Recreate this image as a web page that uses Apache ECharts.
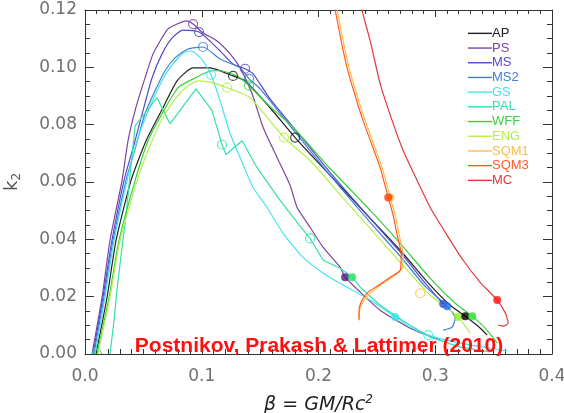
<!DOCTYPE html>
<html><head><meta charset="utf-8">
<script src="https://cdn.jsdelivr.net/npm/echarts@6/dist/echarts.min.js"></script>
<style>html,body{margin:0;padding:0;background:#fff}#c{width:564px;height:413px}</style>
</head><body><div id="c"></div>
<script>
const names = ['AP','PS','MS','MS2','GS','PAL','WFF','ENG','SQM1','SQM3','MC'];
const colors = ['#202020','#7a45a0','#5548cc','#3f7fd6','#45e3f2','#34e0a8','#36d23c','#b4f04a','#ffbd45','#ff5a28','#e23a3a'];
const xTickLabels = ['0.0','0.1','0.2','0.3','0.4'];
const yTickLabels = ['0.00','0.02','0.04','0.06','0.08','0.10','0.12'];

const AP = [[0.0094,0],[0.0189,0.0198],[0.0266,0.0396],[0.0394,0.0605],[0.0523,0.0744],[0.0668,0.0859],[0.0789,0.0953],[0.0926,0.0998],[0.1071,0.0998],[0.1268,0.0970],[0.1371,0.0953],[0.1585,0.0859],[0.1800,0.0755],[0.2100,0.0623],[0.2443,0.0473],[0.2700,0.0362],[0.2957,0.0240],[0.3128,0.0170],[0.3257,0.0132],[0.3368,0.0097],[0.3445,0.0066]];
const PS = [[0.0060,0],[0.0146,0.0198],[0.0214,0.0396],[0.0317,0.0605],[0.0369,0.0744],[0.0429,0.0849],[0.0514,0.0963],[0.0583,0.1047],[0.0660,0.1103],[0.0711,0.1134],[0.0789,0.1151],[0.0866,0.1162],[0.0926,0.1151],[0.1011,0.1120],[0.1131,0.1092],[0.1243,0.1047],[0.1329,0.0998],[0.1431,0.0908],[0.1526,0.0790],[0.1646,0.0685],[0.1757,0.0588],[0.1817,0.0511],[0.1928,0.0442],[0.2040,0.0372],[0.2185,0.0303],[0.2228,0.0268],[0.2357,0.0216],[0.2528,0.0153],[0.2785,0.0090],[0.3042,0.0049]];
const MS = [[0.0069,0],[0.0154,0.0198],[0.0231,0.0396],[0.0334,0.0605],[0.0429,0.0744],[0.0497,0.0849],[0.0574,0.0963],[0.0660,0.1047],[0.0746,0.1103],[0.0840,0.1130],[0.0977,0.1123],[0.1131,0.1068],[0.1268,0.1012],[0.1371,0.0995],[0.1440,0.0977],[0.1585,0.0890],[0.1843,0.0762],[0.2100,0.0633],[0.2443,0.0473],[0.2700,0.0355],[0.2914,0.0247],[0.3068,0.0174]];
const MS2 = [[0.0077,0],[0.0163,0.0198],[0.0240,0.0396],[0.0351,0.0605],[0.0437,0.0727],[0.0514,0.0838],[0.0600,0.0918],[0.0686,0.0988],[0.0771,0.1033],[0.0883,0.1064],[0.1011,0.1071],[0.1157,0.1029],[0.1329,0.0998],[0.1405,0.0960],[0.1500,0.0925],[0.1757,0.0796],[0.2100,0.0623],[0.2443,0.0459],[0.2700,0.0341],[0.2914,0.0236],[0.3102,0.0167],[0.3171,0.0125],[0.3145,0.0094],[0.3068,0.0083]];
const GS = [[0.0086,0],[0.0171,0.0198],[0.0249,0.0396],[0.0360,0.0605],[0.0446,0.0744],[0.0531,0.0838],[0.0617,0.0918],[0.0703,0.0984],[0.0789,0.1029],[0.0857,0.1054],[0.0900,0.1057],[0.0943,0.1050],[0.1011,0.1023],[0.1080,0.0974],[0.1157,0.0883],[0.1243,0.0769],[0.1329,0.0685],[0.1440,0.0581],[0.1560,0.0511],[0.1697,0.0421],[0.1868,0.0337],[0.2040,0.0282],[0.2185,0.0247],[0.2443,0.0188],[0.2657,0.0129],[0.2785,0.0094],[0.2940,0.0066],[0.3214,0.0038],[0.3471,0.0021],[0.3617,0.0010]];
const PAL_start = [[0.0060,0],[0.0086,0.0014],[0.0120,0.0014],[0.0146,0]];
const PAL = [[0.0214,0],[0.0249,0.0118],[0.0274,0.0223],[0.0309,0.0344],[0.0351,0.0483],[0.0386,0.0623],[0.0429,0.0796],[0.0617,0.0894],[0.0728,0.0803],[0.0951,0.0925],[0.1088,0.0849],[0.1174,0.0730],[0.1208,0.0696],[0.1346,0.0744],[0.1474,0.0650],[0.1671,0.0536],[0.1843,0.0445],[0.1928,0.0403],[0.2040,0.0327],[0.2185,0.0299],[0.2288,0.0268],[0.2357,0.0233],[0.2528,0.0170],[0.2742,0.0111],[0.2957,0.0059],[0.3214,0.0024],[0.3471,0.0007]];
const WFF = [[0.0103,0],[0.0206,0.0198],[0.0291,0.0396],[0.0429,0.0605],[0.0540,0.0744],[0.0660,0.0838],[0.0797,0.0929],[0.0943,0.0963],[0.1088,0.0988],[0.1157,0.0988],[0.1303,0.0970],[0.1405,0.0936],[0.1560,0.0873],[0.1783,0.0790],[0.2100,0.0647],[0.2443,0.0501],[0.2700,0.0386],[0.2957,0.0264],[0.3171,0.0177],[0.3317,0.0132],[0.3428,0.0090],[0.3531,0.0038]];
const ENG = [[0.0111,0],[0.0214,0.0198],[0.0300,0.0396],[0.0446,0.0605],[0.0574,0.0744],[0.0686,0.0838],[0.0831,0.0918],[0.0969,0.0953],[0.1097,0.0946],[0.1217,0.0929],[0.1414,0.0894],[0.1705,0.0755],[0.1928,0.0675],[0.2185,0.0556],[0.2443,0.0438],[0.2700,0.0320],[0.2957,0.0205],[0.3128,0.0153],[0.3197,0.0129],[0.3257,0.0097],[0.3299,0.0073]];
const SQM1 = [[0.2140,0.1240],[0.2160,0.1200],[0.2211,0.1092],[0.2262,0.0998],[0.2331,0.0901],[0.2400,0.0814],[0.2477,0.0727],[0.2545,0.0650],[0.2614,0.0546],[0.2657,0.0483],[0.2691,0.0414],[0.2725,0.0351],[0.2717,0.0299],[0.2631,0.0268],[0.2528,0.0240],[0.2425,0.0205],[0.2365,0.0170],[0.2340,0.0125]];
const SQM3 = [[0.2124,0.1240],[0.2143,0.1200],[0.2194,0.1092],[0.2245,0.0998],[0.2314,0.0901],[0.2382,0.0814],[0.2460,0.0727],[0.2528,0.0650],[0.2597,0.0546],[0.2640,0.0483],[0.2674,0.0414],[0.2708,0.0351],[0.2700,0.0292],[0.2614,0.0268],[0.2528,0.0243],[0.2425,0.0216],[0.2374,0.0188],[0.2348,0.0153],[0.2348,0.0118]];
const MC = [[0.2350,0.1240],[0.2374,0.1196],[0.2443,0.1092],[0.2528,0.0943],[0.2631,0.0814],[0.2725,0.0710],[0.2845,0.0605],[0.2957,0.0511],[0.3102,0.0414],[0.3239,0.0327],[0.3385,0.0250],[0.3531,0.0188],[0.3600,0.0143],[0.3625,0.0108],[0.3582,0.0097],[0.3539,0.0101]];

// open circles (1.4 Msun) and filled dots (max mass)
const openMarks = [['PS',0.0926,0.1151],['MS',0.0977,0.1123],['MS',0.1371,0.0995],['MS2',0.1011,0.1071],['MS2',0.1405,0.0960],['GS',0.1080,0.0974],['GS',0.2940,0.0066],['PAL',0.1174,0.0730],['PAL',0.1928,0.0403],['AP',0.1268,0.0970],['AP',0.1800,0.0755],['WFF',0.1405,0.0936],['ENG',0.1217,0.0929],['ENG',0.1705,0.0755],['SQM1',0.2871,0.0212]];
const dotMarks = [['PS',0.2228,0.0268],['PAL',0.2288,0.0268],['MS',0.3068,0.0174],['MS2',0.3102,0.0167],['GS',0.2657,0.0129],['ENG',0.3197,0.0129],['AP',0.3257,0.0132],['WFF',0.3317,0.0132],['SQM1',0.2614,0.0546],['SQM3',0.2597,0.0546],['MC',0.3531,0.0188]];
const dotColors = {PS:'#4a1a80',PAL:'#20e060',MS:'#3050d8',MS2:'#2a70e8',GS:'#30e8e8',ENG:'#90f020',AP:'#000000',WFF:'#30e030',SQM1:'#ffb020',SQM3:'#ff4010',MC:'#ff1010'};

const curves = {AP, PS, MS, MS2, GS, PAL, WFF, ENG, SQM1, SQM3, MC};
const colorOf = n => colors[names.indexOf(n)];

const series = [];
names.forEach((n, i) => {
  series.push({
    name: n, type: 'line', data: curves[n], symbol: 'none', smooth: n === 'PAL' ? false : 0.2,
    lineStyle: {color: colors[i], width: 1.2}, itemStyle: {color: colors[i]}, z: 2 + i, clip: true
  });
});
series.push({
  name: 'PAL', type: 'line', data: PAL_start, symbol: 'none', smooth: 0.3,
  lineStyle: {color: colorOf('PAL'), width: 1.2}, itemStyle: {color: colorOf('PAL')}, z: 7
});
series.push({
  type: 'scatter', symbol: 'circle', symbolSize: 9, z: 20,
  data: openMarks.map(m => ({value: [m[1], m[2]], itemStyle: {color: 'rgba(0,0,0,0)', borderColor: colorOf(m[0]), borderWidth: 1.2}}))
});
series.push({
  type: 'scatter', symbol: 'circle', symbolSize: 8, z: 21,
  data: dotMarks.map(m => ({value: [m[1], m[2]], itemStyle: {color: dotColors[m[0]]}}))
});

const axisCol = '#333';
const chart = echarts.init(document.getElementById('c'), null, {renderer: 'canvas'});
chart.setOption({
  animation: false,
  backgroundColor: '#fff',
  grid: {left: 85, right: 12, top: 10, bottom: 59, containLabel: false, outerBoundsMode: 'none'},
  legend: {
    orient: 'vertical', left: 468, top: 26, padding: 0, itemGap: 0, itemWidth: 24, itemHeight: 1.4,
    icon: 'rect', selectedMode: false,
    textStyle: {fontFamily: 'Liberation Sans', fontSize: 13, lineHeight: 14.7, padding: [0, 0, 0, -5]},
    data: names.map((n, i) => ({name: n, textStyle: {color: colors[i]}}))
  },
  xAxis: [{
    type: 'value', min: 0, max: 0.4, interval: 0.1, position: 'bottom',
    axisLine: {onZero: false, lineStyle: {color: axisCol}},
    axisTick: {inside: true, length: 9, lineStyle: {color: axisCol}},
    minorTick: {show: true, splitNumber: 10, length: 5, lineStyle: {color: axisCol}},
    splitLine: {show: false},
    axisLabel: {formatter: v => xTickLabels[Math.round(v * 10)], fontFamily: 'DejaVu Sans', fontSize: 17, color: '#707070', margin: 14},
    name: '\u03b2 = GM/Rc{p|2}', nameLocation: 'middle', nameGap: 40,
    nameTextStyle: {fontFamily: 'DejaVu Sans', fontStyle: 'italic', fontSize: 19, color: '#222',
      rich: {p: {fontFamily: 'DejaVu Sans', fontStyle: 'italic', fontSize: 12, color: '#222', padding: [0, 0, 10, 0]}}}
  }, {
    type: 'value', min: 0, max: 0.4, interval: 0.1, position: 'top',
    axisLine: {onZero: false, lineStyle: {color: axisCol}},
    axisTick: {inside: true, length: 7, lineStyle: {color: axisCol}},
    minorTick: {show: true, splitNumber: 10, length: 4, lineStyle: {color: axisCol}},
    splitLine: {show: false}, axisLabel: {show: false}
  }],
  yAxis: [{
    type: 'value', min: 0, max: 0.12, interval: 0.02, position: 'left',
    axisLine: {show: true, onZero: false, lineStyle: {color: axisCol}},
    axisTick: {show: true, inside: true, length: 9, lineStyle: {color: axisCol}},
    minorTick: {show: true, splitNumber: 4, length: 5, lineStyle: {color: axisCol}},
    splitLine: {show: false},
    axisLabel: {formatter: v => yTickLabels[Math.round(v * 50)], fontFamily: 'DejaVu Sans', fontSize: 17, color: '#707070', margin: 8},
    name: 'k{s|2}', nameLocation: 'middle', nameGap: 62, nameRotate: 90,
    nameTextStyle: {fontFamily: 'DejaVu Sans', fontSize: 18, color: '#555',
      rich: {s: {fontFamily: 'DejaVu Sans', fontSize: 12, color: '#555', padding: [9, 0, 0, 0]}}}
  }, {
    type: 'value', min: 0, max: 0.12, interval: 0.02, position: 'right',
    axisLine: {show: true, onZero: false, lineStyle: {color: axisCol}},
    axisTick: {show: true, inside: true, length: 9, lineStyle: {color: axisCol}},
    minorTick: {show: true, splitNumber: 4, length: 5, lineStyle: {color: axisCol}},
    splitLine: {show: false}, axisLabel: {show: false}
  }],
  graphic: [{
    type: 'text', x: 319, y: 346, z: 100,
    style: {text: 'Postnikov, Prakash & Lattimer (2010)', font: 'bold 21px "Liberation Sans"', fill: '#ff1010', align: 'center', verticalAlign: 'middle'}
  }],
  series: series
});
</script></body></html>
